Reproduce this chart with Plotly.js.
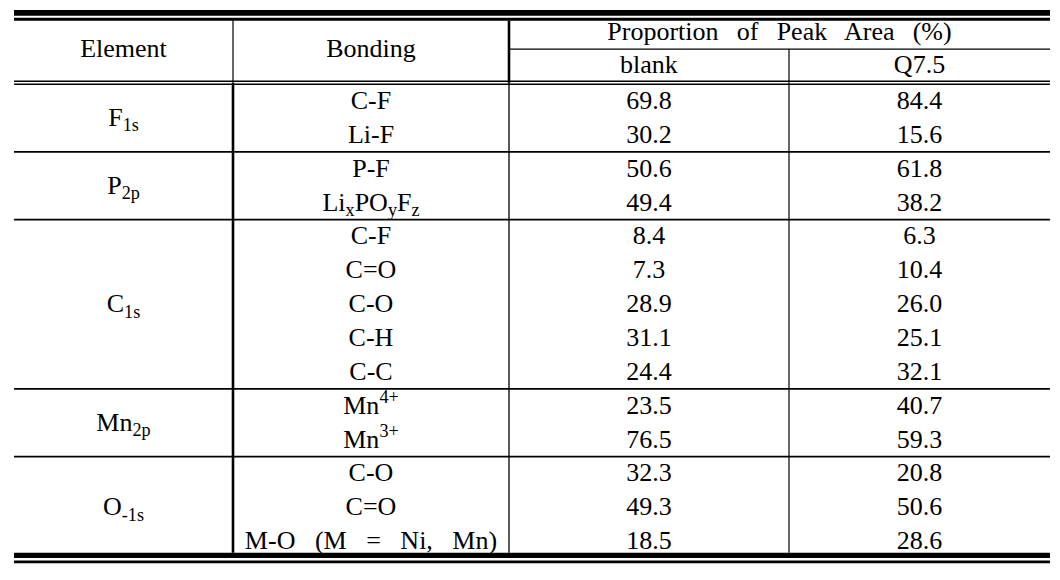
<!DOCTYPE html>
<html>
<head>
<meta charset="utf-8">
<script src="https://cdn.plot.ly/plotly-3.0.1.min.js"></script>
<style>
html,body{margin:0;padding:0;background:#fff;}
#chart{width:1060px;height:580px;}
</style>
</head>
<body>
<div id="chart"></div>
<script>
// ---- data ----
const elements = ['F<sub>1s</sub>', 'P<sub>2p</sub>', 'C<sub>1s</sub>', 'Mn<sub>2p</sub>', 'O<sub>-1s</sub>'];
const groupSizes = [2, 2, 5, 2, 3];
const bondings = ['C-F', 'Li-F', 'P-F', 'Li<sub>x</sub>PO<sub>y</sub>F<sub>z</sub>',
  'C-F', 'C=O', 'C-O', 'C-H', 'C-C', 'Mn<sup>4+</sup>', 'Mn<sup>3+</sup>',
  'C-O', 'C=O', 'M-O\u00a0\u00a0 (M\u00a0\u00a0 =\u00a0\u00a0 Ni,\u00a0\u00a0 Mn)'];
const blankValues = [69.8, 30.2, 50.6, 49.4, 8.4, 7.3, 28.9, 31.1, 24.4, 23.5, 76.5, 32.3, 49.3, 18.5];
const q75Values = [84.4, 15.6, 61.8, 38.2, 6.3, 10.4, 26.0, 25.1, 32.1, 40.7, 59.3, 20.8, 50.6, 28.6];
const headerElement = 'Element';
const headerBonding = 'Bonding';
const headerGroup = 'Proportion\u00a0\u2009 of\u00a0\u2009 Peak\u00a0\u2009 Area\u00a0\u2009 (%)';
const sampleNames = ['blank', 'Q7.5'];

// ---- layout geometry (x in px-like units, y in row units) ----
const colEdges = [14, 233, 509, 789, 1050];
const colCenter = i => (colEdges[i] + colEdges[i + 1]) / 2;
const font = {family: 'Liberation Serif', size: 26, color: '#000'};
const rowIdx = bondings.map((_, i) => i);

// group centers and separators
const groupCenters = [];
const separators = [];
let start = 0;
groupSizes.forEach((n, g) => {
  groupCenters.push(start + (n - 1) / 2);
  if (g < groupSizes.length - 1) separators.push(start + n - 0.54);
  start += n;
});

const traces = [
  {x: rowIdx.map(() => colCenter(1)), y: rowIdx, text: bondings},
  {x: rowIdx.map(() => colCenter(2)), y: rowIdx, text: blankValues.map(v => v.toFixed(1))},
  {x: rowIdx.map(() => colCenter(3)), y: rowIdx, text: q75Values.map(v => v.toFixed(1))},
  {x: groupCenters.map(() => colCenter(0)), y: groupCenters, text: elements},
  {x: [colCenter(0), colCenter(1)], y: [-1.55, -1.55], text: [headerElement, headerBonding]},
  {x: [(colEdges[2] + colEdges[4]) / 2], y: [-2.05], text: [headerGroup]},
  {x: [colCenter(2), colCenter(3)], y: [-1.05, -1.05], text: sampleNames}
].map(t => Object.assign(t, {
  type: 'scatter', mode: 'text', textposition: 'middle center',
  textfont: font, hoverinfo: 'skip', showlegend: false, cliponaxis: false
}));

const L = (x0, x1, y0, y1, w) => ({type: 'line', xref: 'x', yref: 'y', x0, x1, y0, y1,
  line: {color: '#000', width: w}});
const left = colEdges[0], right = colEdges[4];
const shapes = [
  L(left, right, -2.648, -2.648, 5.7),
  L(left, right, -2.461, -2.461, 3),
  L(colEdges[2], right, -1.575, -1.575, 1.3),
  L(left, right, -0.626, -0.626, 1.4),
  L(left, right, -0.538, -0.538, 1.4),
  ...separators.map(s => L(left, right, s, s, 1.6)),
  L(left, right, 13.38, 13.38, 5.2),
  L(left, right, 13.57, 13.57, 2.6),
  // vertical lines: header part
  L(colEdges[1], colEdges[1], -2.42, -0.58, 1.2),
  L(colEdges[2], colEdges[2], -2.42, -0.58, 2.6),
  L(colEdges[3], colEdges[3], -1.575, -0.58, 1.2),
  // vertical lines: body part
  L(colEdges[1], colEdges[1], -0.58, 13.3, 2.6),
  L(colEdges[2], colEdges[2], -0.58, 13.3, 1.3),
  L(colEdges[3], colEdges[3], -0.58, 13.3, 1.2)
];

const layout = {
  width: 1060, height: 580,
  margin: {l: 0, r: 0, t: 0, b: 0},
  paper_bgcolor: '#fff', plot_bgcolor: '#fff',
  font: {family: 'Liberation Serif'},
  xaxis: {range: [0, 1060], visible: false, fixedrange: true},
  yaxis: {range: [14.106, -3.028], visible: false, fixedrange: true},
  shapes: shapes,
  showlegend: false
};

Plotly.newPlot('chart', traces, layout, {staticPlot: true, displayModeBar: false});
</script>
</body>
</html>
